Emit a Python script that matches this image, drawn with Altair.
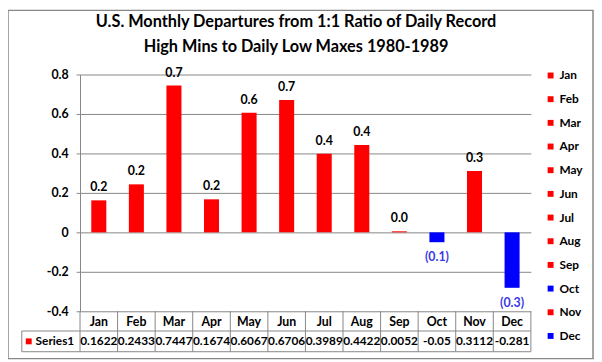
import altair as alt
import pandas as pd

months = ["Jan", "Feb", "Mar", "Apr", "May", "Jun", "Jul", "Aug", "Sep", "Oct", "Nov", "Dec"]
values = [0.1622, 0.2433, 0.7447, 0.1674, 0.6067, 0.6706, 0.3989, 0.4422, 0.0052, -0.05, 0.3112, -0.281]
value_text = ["0.1622", "0.2433", "0.7447", "0.1674", "0.6067", "0.6706", "0.3989", "0.4422", "0.0052", "-0.05", "0.3112", "-0.281"]
title_lines = ["U.S. Monthly Departures from 1:1 Ratio of Daily Record",
               "High Mins to Daily Low Maxes 1980-1989"]
series_name = ["Series1"]
y_ticks = [-0.4, -0.2, 0, 0.2, 0.4, 0.6, 0.8]

RED, BLUE = "#FF0000", "#0000FF"
NEG_LABEL = "#3A3AE6"
GRAY = "#868686"
FONT = "Lato"

bar_colors = [RED if v >= 0 else BLUE for v in values]
df = pd.DataFrame({"month": months, "value": values, "vtext": value_text})
df["label"] = [f"{v:.1f}" if v >= 0 else f"({abs(v):.1f})" for v in values]

W, H = 457, 240

xs = alt.X("month:N", sort=months,
           scale=alt.Scale(domain=months, paddingInner=0, paddingOuter=0), axis=None)
ys = alt.Y("value:Q", scale=alt.Scale(domain=[-0.4, 0.8], nice=False),
           axis=alt.Axis(values=y_ticks, grid=True, gridColor=GRAY, domainColor=GRAY,
                         tickColor=GRAY, tickSize=4, labelPadding=8, labelFont=FONT,
                         labelFontSize=12.5, labelFontWeight="bold", labelColor="black",
                         labelOverlap=False,
                         labelExpr="datum.value == 0 ? '0' : (datum.value < 0 ? '-' : '') + format(abs(datum.value), '.1f')",
                         title=None))

base = alt.Chart(df)

border = alt.Chart(pd.DataFrame({"k": [0]})).mark_rect(
    fillOpacity=0, stroke=GRAY, strokeWidth=1.5).encode(
    x=alt.value(-73), x2=alt.value(520), y=alt.value(-65), y2=alt.value(288))

bars = base.mark_bar(width=alt.RelativeBandSize(0.4)).encode(
    x=xs, y=ys,
    color=alt.Color("month:N", sort=months,
                    scale=alt.Scale(domain=months, range=bar_colors),
                    legend=alt.Legend(orient="none", legendX=471, legendY=-5, title=None,
                                      symbolType="square", symbolSize=36, symbolStrokeWidth=0,
                                      labelFont=FONT, labelFontSize=12, labelFontWeight="bold",
                                      labelColor="black", rowPadding=12, padding=0,
                                      labelOffset=3)))

pos_labels = base.transform_filter("datum.value >= 0").mark_text(
    font=FONT, fontSize=12.5, fontWeight="bold", color="black", dy=-13).encode(
    x=xs, y=ys, text="label:N")
neg_labels = base.transform_filter("datum.value < 0").mark_text(
    font=FONT, fontSize=12.5, fontWeight="bold", color=NEG_LABEL, dy=15).encode(
    x=xs, y=ys, text="label:N")

# data table
header = base.mark_text(font=FONT, fontSize=12.5, fontWeight="bold", color="black").encode(
    x=xs, y=alt.value(251), text="month:N")
row = base.mark_text(font=FONT, fontSize=12, fontWeight="bold", color="black").encode(
    x=xs, y=alt.value(270.5), text="vtext:N")
vlines = base.mark_rule(color=GRAY).encode(
    x=alt.X("month:N", sort=months, scale=alt.Scale(domain=months, paddingInner=0, paddingOuter=0),
            axis=None, bandPosition=0),
    y=alt.value(240), y2=alt.value(281))
one = alt.Chart(pd.DataFrame({"k": [0]}))
right_line = one.mark_rule(color=GRAY).encode(x=alt.value(W), y=alt.value(240), y2=alt.value(281))
left_line = one.mark_rule(color=GRAY).encode(x=alt.value(-59), y=alt.value(260), y2=alt.value(281))
hline1 = one.mark_rule(color=GRAY).encode(x=alt.value(-59), x2=alt.value(W), y=alt.value(260))
hline2 = one.mark_rule(color=GRAY).encode(x=alt.value(-59), x2=alt.value(W), y=alt.value(281))

sdf = pd.DataFrame({"s": series_name})
s_square = alt.Chart(sdf).mark_square(size=36, color=RED, opacity=1).encode(
    x=alt.value(-52), y=alt.value(270.5))
s_text = alt.Chart(sdf).mark_text(font=FONT, fontSize=12, fontWeight="bold", color="black",
                                  align="left").encode(
    x=alt.value(-45), y=alt.value(270.5), text="s:N")

t1 = alt.Chart(pd.DataFrame({"t": [title_lines[0]]})).mark_text(
    font=FONT, fontSize=16.5, fontWeight="bold", color="black").encode(
    x=alt.value(219), y=alt.value(-53), text="t:N")
t2 = alt.Chart(pd.DataFrame({"t": [title_lines[1]]})).mark_text(
    font=FONT, fontSize=16.5, fontWeight="bold", color="black").encode(
    x=alt.value(219), y=alt.value(-27.5), text="t:N")

chart = alt.layer(border, bars, pos_labels, neg_labels, vlines, right_line, left_line,
                  hline1, hline2, header, row, s_square, s_text, t1, t2).properties(
    width=W, height=H,
    autosize=alt.AutoSizeParams(type="none"),
    padding={"left": 73, "top": 65, "right": 64, "bottom": 49},
    background="white",
).configure_view(stroke=None)

chart.save("out.html", embed_options={"renderer": "svg", "actions": False})
